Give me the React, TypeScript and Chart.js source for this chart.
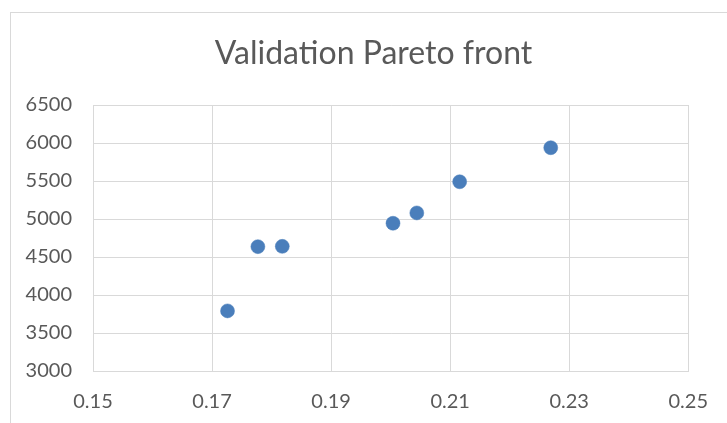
import React, { useEffect, useRef } from "react";
import { Chart, registerables } from "chart.js";

Chart.register(...registerables);

const errorValues = [0.1726, 0.1777, 0.1818, 0.2004, 0.2044, 0.2116, 0.2269];
const costValues = [3791, 4636, 4640, 4944, 5080, 5490, 5938];
const xTicks = [0.15, 0.17, 0.19, 0.21, 0.23, 0.25];
const yTicks = [3000, 3500, 4000, 4500, 5000, 5500, 6000, 6500];
const titleText = "Validation Pareto front";

const FONT = "Lato, 'Open Sans', sans-serif";
const TEXT = "#595959";
const GRID = "#D9D9D9";

const titleShift = {
  id: "titleShift",
  afterLayout(chart: any) {
    const tb = chart.titleBlock;
    if (tb) {
      tb.left = 57;
      tb.right = 690;
    }
  },
};

export default function App() {
  const ref = useRef<HTMLCanvasElement>(null);
  useEffect(() => {
    if (!ref.current) return;
    const chart = new Chart(ref.current, {
      type: "scatter",
      data: {
        datasets: [
          {
            label: "Pareto",
            data: errorValues.map((x, i) => ({ x, y: costValues[i] })),
            backgroundColor: "#4A7EBB",
            borderColor: "#4A7EBB",
            borderWidth: 0.5,
            pointRadius: 7,
          },
        ],
      },
      plugins: [titleShift],
      options: {
        responsive: false,
        animation: false,
        devicePixelRatio: 1,
        layout: { padding: { left: 0, right: 37, top: 0, bottom: 0 } },
        plugins: {
          legend: { display: false },
          tooltip: { enabled: false },
          title: {
            display: true,
            text: titleText,
            color: TEXT,
            font: { family: FONT, size: 32, weight: "normal", lineHeight: 1.2 },
            padding: { top: 34, bottom: 32.6 },
          },
        },
        scales: {
          x: {
            type: "linear",
            min: 0.15,
            max: 0.25,
            afterBuildTicks: (s: any) => {
              s.ticks = xTicks.map((v) => ({ value: v }));
            },
            afterFit: (s: any) => {
              s.height = 52;
            },
            grid: { color: GRID, lineWidth: 1, drawTicks: false },
            border: { color: GRID, width: 1 },
            ticks: {
              color: TEXT,
              padding: 19,
              maxRotation: 0,
              font: { family: FONT, size: 20 },
              callback: (v: any) => Number(v).toFixed(2),
            },
          },
          y: {
            type: "linear",
            min: 3000,
            max: 6500,
            afterBuildTicks: (s: any) => {
              s.ticks = yTicks.map((v) => ({ value: v }));
            },
            afterFit: (s: any) => {
              s.width = 93;
            },
            grid: { color: GRID, lineWidth: 1, drawTicks: false },
            border: { color: GRID, width: 1 },
            ticks: {
              color: TEXT,
              padding: 21,
              font: { family: FONT, size: 20 },
              callback: (v: any) => String(v),
            },
          },
        },
      },
    });
    return () => chart.destroy();
  }, []);
  return (
    <div style={{ position: "absolute", left: 0, top: 0, width: 727, height: 423, overflow: "hidden", background: "#fff" }}>
      <div
        style={{
          position: "absolute",
          left: 10,
          top: 12,
          width: 740,
          height: 440,
          border: "1px solid #D9D9D9",
          boxSizing: "border-box",
        }}
      />
      <canvas ref={ref} width={727} height={423} style={{ position: "absolute", left: 0, top: 0 }} />
    </div>
  );
}
